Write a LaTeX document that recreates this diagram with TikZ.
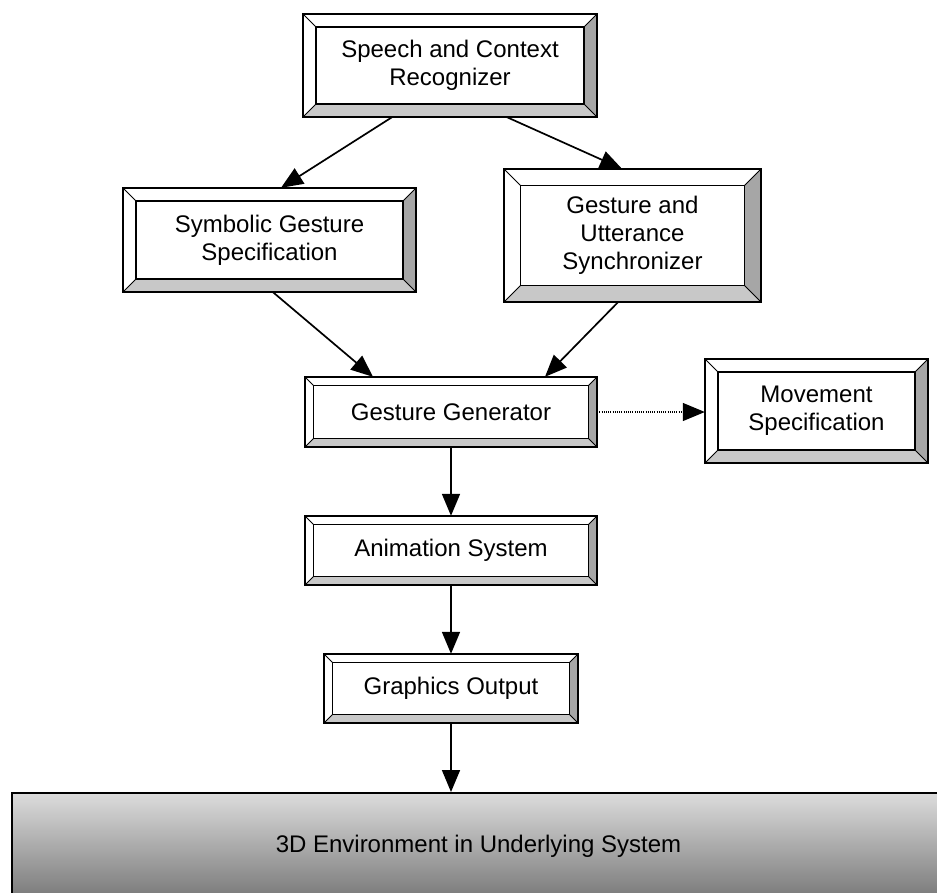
\documentclass[tikz,border=0pt]{standalone}
\usepackage{fontspec}
\setmainfont{Liberation Sans}
\usetikzlibrary{calc,arrows.meta}

\definecolor{bevelright}{HTML}{A6A6A6}
\definecolor{bevelbottom}{HTML}{C8C8C8}
\definecolor{envtop}{HTML}{DCDCDC}
\definecolor{envmid}{HTML}{ADADAD}
\definecolor{envbot}{HTML}{787878}

\newcommand\boxfont{\fontsize{24}{28}\selectfont}

% Bevelled frame around a named node: #1 node name, #2 bevel depth
\newcommand\bevelframe[2]{%
  \coordinate (#1-nwi) at ($(#1.north west)+(#2,#2)$);
  \coordinate (#1-nei) at ($(#1.north east)+(-#2,#2)$);
  \coordinate (#1-sei) at ($(#1.south east)+(-#2,-#2)$);
  \coordinate (#1-swi) at ($(#1.south west)+(#2,-#2)$);
  \fill[bevelright] (#1.north east) -- (#1.south east) -- (#1-sei) -- (#1-nei) -- cycle;
  \fill[bevelbottom] (#1.south west) -- (#1.south east) -- (#1-sei) -- (#1-swi) -- cycle;
  \draw[line width=0.8pt] (#1.north west) -- (#1-nwi) (#1.north east) -- (#1-nei)
        (#1.south east) -- (#1-sei) (#1.south west) -- (#1-swi);
  \draw[line width=1.6pt] (#1-nwi) rectangle (#1-sei);
  \draw[line width=2pt] (#1.north west) rectangle (#1.south east);
}

\tikzset{
  bx/.style={draw=none, fill=white, inner sep=0pt, align=center, font=\boxfont},
  flow/.style={line width=1.7pt, -{Triangle[length=22pt,width=18pt]}},
  dotflow/.style={line width=1.2pt, dash pattern=on 1pt off 1.2pt,
                  -{Triangle[length=22pt,width=18pt]}}
}

\begin{document}
\begin{tikzpicture}[x=1pt, y=-1pt]
  \useasboundingbox (0,0) rectangle (937,892);

  % processing stages
  \node[bx, minimum width=294pt, minimum height=103pt] (spk) at (450,65.5)
       {Speech and Context\\Recognizer};
  \node[bx, minimum width=293pt, minimum height=104pt] (sym) at (269.5,240)
       {Symbolic Gesture\\Specification};
  \node[bx, minimum width=257pt, minimum height=133pt] (syn) at (632.5,235.5)
       {Gesture and\\Utterance\\Synchronizer};
  \node[bx, minimum width=292pt, minimum height=70pt] (gen) at (451,412)
       {Gesture Generator};
  \node[bx, minimum width=223pt, minimum height=104pt] (mov) at (816.5,411)
       {Movement\\Specification};
  \node[bx, minimum width=292pt, minimum height=69pt] (ani) at (451,550.5)
       {Animation System};
  \node[bx, minimum width=254pt, minimum height=69pt] (gfx) at (451,688.5)
       {Graphics Output};

  \bevelframe{spk}{13}
  \bevelframe{sym}{13}
  \bevelframe{syn}{16.6}
  \bevelframe{gen}{8.8}
  \bevelframe{mov}{13}
  \bevelframe{ani}{8.6}
  \bevelframe{gfx}{8.6}

  % underlying environment
  \node[draw, line width=2pt, top color=envtop, middle color=envmid, bottom color=envbot,
        minimum width=933pt, minimum height=107pt, inner sep=0pt, font=\boxfont]
       (env) at (478.5,846.5) {\raisebox{-4pt}{3D Environment in Underlying System}};

  % connectors
  \draw[flow] ([xshift=-58pt]spk.south) -- ([xshift=11.5pt]sym.north);
  \draw[flow] ([xshift=57pt]spk.south) -- ([xshift=-10.5pt]syn.north);
  \draw[flow] ([xshift=3.5pt]sym.south) -- ([xshift=-78pt]gen.north);
  \draw[flow] ([xshift=-14.5pt]syn.south) -- ([xshift=94pt]gen.north);
  \draw[dotflow] (gen.east) -- (gen.east -| mov.west);
  \draw[flow] (gen.south) -- (ani.north);
  \draw[flow] (ani.south) -- (gfx.north);
  \draw[flow] (gfx.south) -- (gfx.south |- env.north);
\end{tikzpicture}
\end{document}
